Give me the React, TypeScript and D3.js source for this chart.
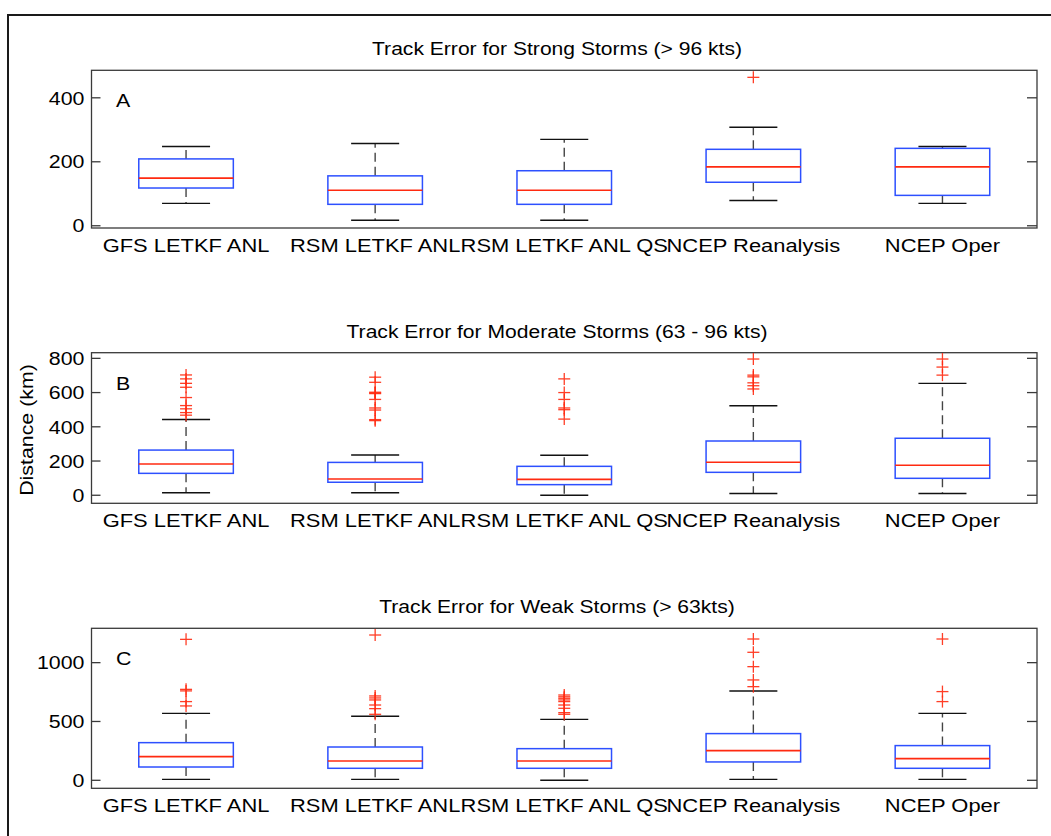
import React from "react";
import * as d3 from "d3";

// ---------- data ----------
const categories = ["GFS LETKF ANL", "RSM LETKF ANL", "RSM LETKF ANL QS", "NCEP Reanalysis", "NCEP Oper"];

// Each row: [lower whisker, Q1, median, Q3, upper whisker] in km
const strongStats = [
  [70, 118, 149, 209, 248],
  [17, 67, 111, 156, 257],
  [17, 67, 111, 172, 270],
  [79, 136, 184, 239, 308],
  [70, 95, 184, 242, 248],
];
const strongOutliers = [[], [], [], [464], []];

const moderateStats = [
  [15, 128, 183, 264, 443],
  [15, 76, 95, 192, 235],
  [0, 62, 93, 169, 234],
  [10, 134, 193, 317, 523],
  [10, 99, 175, 333, 654],
];
const moderateOutliers = [
  [703, 680, 654, 631, 571, 524, 505, 483, 468],
  [690, 660, 602, 598, 594, 560, 510, 498, 442, 436],
  [680, 600, 560, 510, 500, 445],
  [796, 702, 692, 657, 640, 621],
  [796, 749, 702],
];

const weakStats = [
  [8, 113, 201, 320, 569],
  [8, 102, 164, 283, 544],
  [0, 102, 164, 269, 518],
  [8, 156, 252, 397, 759],
  [8, 102, 184, 295, 569],
];
const weakOutliers = [
  [1198, 773, 760, 669, 632],
  [1235, 717, 700, 683, 640, 609, 561],
  [725, 710, 697, 683, 669, 640, 612, 575, 561],
  [1201, 1088, 966, 853, 796],
  [1201, 754, 669],
];

const strongTicks = [0, 200, 400];
const moderateTicks = [0, 200, 400, 600, 800];
const weakTicks = [0, 500, 1000];

const strongLimits = [-7, 486];
const moderateLimits = [-47, 833];
const weakLimits = [-68, 1292];

const panelTitles = [
  "Track Error for Strong Storms (> 96 kts)",
  "Track Error for Moderate Storms (63 - 96 kts)",
  "Track Error for Weak Storms (> 63kts)",
];
const panelLetters = ["A", "B", "C"];
const yAxisLabel = "Distance (km)";

// ---------- layout ----------
const W = 1051;
const H = 836;
const X0 = 91.5;
const X1 = 1037;
const FONT = '"Liberation Sans", Arial, Helvetica, sans-serif';
const FS = 18.5;
const SX = 1.155;
const BLUE = "#2d50ff";
const RED = "#ff2a10";

const panels = [
  { top: 70.3, bottom: 228, stats: strongStats, outliers: strongOutliers, ticks: strongTicks, lim: strongLimits },
  { top: 352.7, bottom: 503.3, stats: moderateStats, outliers: moderateOutliers, ticks: moderateTicks, lim: moderateLimits },
  { top: 628.3, bottom: 788.3, stats: weakStats, outliers: weakOutliers, ticks: weakTicks, lim: weakLimits },
];

function T(props: { x: number; y: number; anchor?: string; size?: number; rotate?: number; sx?: number; children: React.ReactNode }) {
  const { x, y, anchor = "middle", size = FS, rotate = 0, sx = SX, children } = props;
  return (
    <text
      transform={`translate(${x},${y}) rotate(${rotate}) scale(${sx},1)`}
      textAnchor={anchor as any}
      fontSize={size}
      fontFamily={FONT}
      fill="#000"
    >
      {children}
    </text>
  );
}

function Panel({ p, idx }: { p: any; idx: number }) {
  const x = d3.scaleLinear().domain([0.5, categories.length + 0.5]).range([X0, X1]);
  const y = d3.scaleLinear().domain(p.lim).range([p.bottom, p.top]);
  const step = x(2) - x(1);
  const boxW = step * 0.5;
  const capW = step * 0.254;
  const clipId = `clip${idx}`;
  return (
    <g>
      <defs>
        <clipPath id={clipId}>
          <rect x={X0} y={p.top} width={X1 - X0} height={p.bottom - p.top} />
        </clipPath>
      </defs>
      <T x={557} y={p.top - 15} sx={1.14}>{panelTitles[idx]}</T>
      <rect x={X0} y={p.top} width={X1 - X0} height={p.bottom - p.top} fill="#fff" stroke="#3a3a3a" strokeWidth={1.3} />
      {p.ticks.map((t: number) => (
        <g key={t}>
          <line x1={X0} x2={X0 + 9} y1={y(t)} y2={y(t)} stroke="#3a3a3a" strokeWidth={1.3} />
          <line x1={X1 - 10} x2={X1} y1={y(t)} y2={y(t)} stroke="#3a3a3a" strokeWidth={1.3} />
          <T x={X0 - 7} y={y(t) + 6.7} anchor="end">{String(t)}</T>
        </g>
      ))}
      <T x={116} y={p.top + 37} anchor="start">{panelLetters[idx]}</T>
      <g clipPath={`url(#${clipId})`}>
        {p.stats.map((s: number[], i: number) => {
          const cx = x(i + 1);
          const [lw, q1, med, q3, uw] = s;
          return (
            <g key={i}>
              <line x1={cx} x2={cx} y1={y(q3)} y2={y(uw)} stroke="#444" strokeWidth={1.4} strokeDasharray="9,5" />
              <line x1={cx} x2={cx} y1={y(q1)} y2={y(lw)} stroke="#444" strokeWidth={1.4} strokeDasharray="9,5" />
              <line x1={cx - capW / 2} x2={cx + capW / 2} y1={y(uw)} y2={y(uw)} stroke="#111" strokeWidth={1.4} />
              <line x1={cx - capW / 2} x2={cx + capW / 2} y1={y(lw)} y2={y(lw)} stroke="#111" strokeWidth={1.4} />
              <rect x={cx - boxW / 2} y={y(q3)} width={boxW} height={y(q1) - y(q3)} fill="none" stroke={BLUE} strokeWidth={1.5} />
              <line x1={cx - boxW / 2} x2={cx + boxW / 2} y1={y(med)} y2={y(med)} stroke={RED} strokeWidth={1.6} />
              {p.outliers[i].map((o: number, k: number) => (
                <g key={k} stroke={RED} strokeWidth={1.3} opacity={0.9}>
                  <line x1={cx - 6} x2={cx + 6} y1={y(o)} y2={y(o)} />
                  <line x1={cx} x2={cx} y1={y(o) - 6} y2={y(o) + 6} />
                </g>
              ))}
            </g>
          );
        })}
      </g>
      {categories.map((c, i) => (
        <T key={c} x={x(i + 1)} y={p.bottom + 23.5} sx={1.185}>{c}</T>
      ))}
    </g>
  );
}

export default function App() {
  return (
    <svg
      width={W}
      height={H}
      viewBox={`0 0 ${W} ${H}`}
      style={{ position: "absolute", left: 0, top: 0, display: "block", background: "#fff" }}
    >
      <rect x={0} y={0} width={W} height={H} fill="#fff" />
      <rect x={8} y={15} width={W + 20} height={H + 20} fill="none" stroke="#1a1a1a" strokeWidth={2} />
      {panels.map((p, i) => (
        <Panel key={i} p={p} idx={i} />
      ))}
      <T x={33} y={(352.7 + 503.3) / 2 + 2} rotate={-90}>{yAxisLabel}</T>
    </svg>
  );
}
